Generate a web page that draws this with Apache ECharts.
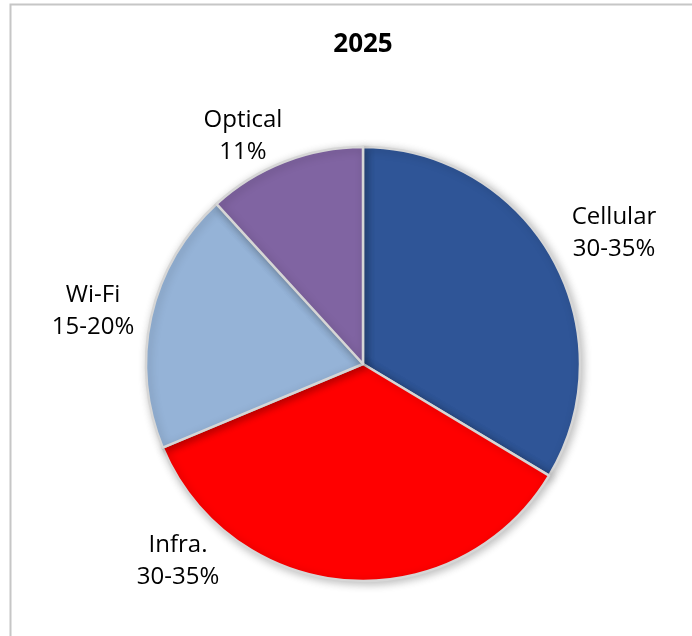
<!DOCTYPE html>
<html><head><meta charset="utf-8">
<script src="https://cdn.jsdelivr.net/npm/echarts@6/dist/echarts.min.js"></script>
<style>html,body{margin:0;padding:0;background:#fff}#c{width:692px;height:636px}</style>
</head><body><div id="c"></div>
<script>
const title = '2025';
const categories = ['Cellular', 'Infra.', 'Wi-Fi', 'Optical'];
const values = [33.6, 35.1, 19.5, 11.8];
const labelTexts = ['30-35%', '30-35%', '15-20%', '11%'];
const colors = ['#2F5597', '#FF0000', '#95B3D7', '#8064A2'];
const labelPos = [[614, 233], [178, 561], [93, 311], [243, 136]];

const chart = echarts.init(document.getElementById('c'), null, {renderer: 'canvas'});
chart.setOption({
  animation: false,
  backgroundColor: '#fff',
  graphic: [
    {type: 'rect', shape: {x: 10.5, y: 4.5, width: 720, height: 700}, style: {fill: 'none', stroke: '#c6c6c6', lineWidth: 2}, silent: true, z: -1},
    {type: 'text', x: 363, y: 45, style: {text: title, fontFamily: 'Open Sans', fontWeight: 'bold', fontSize: 26, fill: '#000', align: 'center', verticalAlign: 'middle'}, silent: true}
  ],
  series: [{
    type: 'pie',
    center: [363, 364],
    radius: [0, 217],
    startAngle: 90,
    clockwise: true,
    itemStyle: {borderColor: '#d6d6d6', borderWidth: 2.5, shadowBlur: 8, shadowOffsetX: 2, shadowOffsetY: 2, shadowColor: 'rgba(0,0,0,0.25)'},
    label: {
      show: true, position: 'outside', overflow: 'none', edgeDistance: 0,
      formatter: p => p.name + '\n' + labelTexts[p.dataIndex],
      fontFamily: 'Open Sans', fontSize: 24, lineHeight: 32, color: '#000', align: 'center'
    },
    labelLine: {show: false},
    labelLayout: p => ({x: labelPos[p.dataIndex][0], y: labelPos[p.dataIndex][1], align: 'center', verticalAlign: 'middle'}),
    data: categories.map((c, i) => ({name: c, value: values[i], itemStyle: {color: colors[i]}}))
  }]
});
</script></body></html>
